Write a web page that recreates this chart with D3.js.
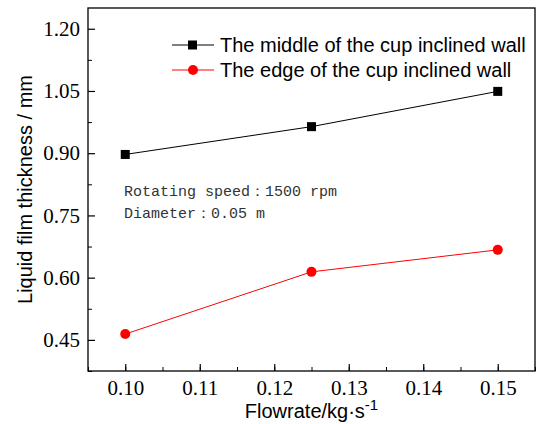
<!DOCTYPE html>
<html>
<head>
<meta charset="utf-8">
<script src="https://cdn.jsdelivr.net/npm/d3@7"></script>
<style>
  body { margin: 0; background: #fff; }
  .tick text { font-family: "Liberation Serif", "Times New Roman", serif; font-size: 21px; fill: #000; }
  .axis path, .axis line { stroke: #000; }
</style>
</head>
<body>
<div id="chart"></div>
<script>
// data
var flowrate = [0.10, 0.125, 0.15];
var middleWall = [0.897, 0.964, 1.049];
var edgeWall = [0.464, 0.614, 0.667];
var xTicks = [0.10, 0.11, 0.12, 0.13, 0.14, 0.15];
var yTicks = [0.45, 0.60, 0.75, 0.90, 1.05, 1.20];
var seriesNames = ["The middle of the cup inclined wall", "The edge of the cup inclined wall"];
var notes = ["Rotating speed：1500 rpm", "Diameter：0.05 m"];

var width = 538, height = 424,
    margin = {top: 8, right: 3, bottom: 53, left: 88};

var svg = d3.select("#chart").append("svg")
    .attr("width", width)
    .attr("height", height);

var xScale = d3.scaleLinear().domain([0.095, 0.155]).range([margin.left, width - margin.right]),
    yScale = d3.scaleLinear().domain([0.375, 1.25]).range([height - margin.bottom, margin.top]);

// minor ticks
var xMinor = d3.range(0, 13).map(function(i) { return 0.095 + i * 0.005; }),
    yMinor = d3.range(0, 7).map(function(i) { return 0.375 + i * 0.15; });

svg.append("g")
    .attr("class", "axis")
    .attr("transform", "translate(0," + (height - margin.bottom) + ")")
    .call(d3.axisBottom(xScale).tickValues(xMinor).tickSize(-4).tickFormat(""))
    .select(".domain").remove();

svg.append("g")
    .attr("class", "axis")
    .attr("transform", "translate(" + margin.left + ",0)")
    .call(d3.axisLeft(yScale).tickValues(yMinor).tickSize(-4).tickFormat(""))
    .select(".domain").remove();

var xAxis = svg.append("g")
    .attr("class", "axis")
    .attr("transform", "translate(0," + (height - margin.bottom) + ")")
    .call(d3.axisBottom(xScale).tickValues(xTicks).tickSize(-7).tickPadding(9).tickFormat(d3.format(".2f")));
xAxis.select(".domain").remove();
xAxis.selectAll(".tick line").attr("stroke-width", 1.2);

var yAxis = svg.append("g")
    .attr("class", "axis")
    .attr("transform", "translate(" + margin.left + ",0)")
    .call(d3.axisLeft(yScale).tickValues(yTicks).tickSize(-7).tickPadding(8).tickFormat(d3.format(".2f")));
yAxis.select(".domain").remove();
yAxis.selectAll(".tick line").attr("stroke-width", 1.2);

// frame
svg.append("rect")
    .attr("x", margin.left)
    .attr("y", margin.top)
    .attr("width", width - margin.left - margin.right)
    .attr("height", height - margin.top - margin.bottom)
    .attr("fill", "none")
    .attr("stroke", "#000")
    .attr("stroke-width", 1.3);

// lines
var line = d3.line()
    .x(function(d, i) { return xScale(flowrate[i]); })
    .y(function(d) { return yScale(d); });

svg.append("path").datum(middleWall)
    .attr("d", line)
    .attr("fill", "none")
    .attr("stroke", "#000")
    .attr("stroke-width", 1);

svg.append("path").datum(edgeWall)
    .attr("d", line)
    .attr("fill", "none")
    .attr("stroke", "#ff0000")
    .attr("stroke-width", 1);

svg.selectAll(".sq")
    .data(middleWall)
    .enter().append("rect")
    .attr("class", "sq")
    .attr("x", function(d, i) { return xScale(flowrate[i]) - 4.5; })
    .attr("y", function(d) { return yScale(d) - 4.5; })
    .attr("width", 9)
    .attr("height", 9)
    .attr("fill", "#000");

svg.selectAll(".dot")
    .data(edgeWall)
    .enter().append("circle")
    .attr("class", "dot")
    .attr("cx", function(d, i) { return xScale(flowrate[i]); })
    .attr("cy", function(d) { return yScale(d); })
    .attr("r", 5)
    .attr("fill", "#ff0000");

// legend
var legend = svg.append("g").attr("transform", "translate(172,45)");

legend.append("line").attr("x1", 0).attr("x2", 42).attr("y1", 0).attr("y2", 0).attr("stroke", "#000");
legend.append("rect").attr("x", 16).attr("y", -4.5).attr("width", 9).attr("height", 9).attr("fill", "#000");
legend.append("line").attr("x1", 0).attr("x2", 42).attr("y1", 25).attr("y2", 25).attr("stroke", "#ff0000");
legend.append("circle").attr("cx", 21).attr("cy", 25).attr("r", 5).attr("fill", "#ff0000");

legend.selectAll(".ltext")
    .data(seriesNames)
    .enter().append("text")
    .attr("x", 48)
    .attr("y", function(d, i) { return i * 25 + 7; })
    .style("font-family", "'Liberation Sans', Arial, sans-serif")
    .style("font-size", "20px")
    .text(function(d) { return d; });

// notes
svg.selectAll(".note")
    .data(notes)
    .enter().append("text")
    .attr("x", 124)
    .attr("y", function(d, i) { return 196 + i * 22; })
    .style("font-family", "'Liberation Mono', 'Courier New', monospace")
    .style("font-size", "15px")
    .style("fill", "#333")
    .text(function(d) { return d; });

// axis titles
svg.append("text")
    .attr("transform", "rotate(-90)")
    .attr("x", -(margin.top + height - margin.bottom) / 2)
    .attr("y", 32)
    .attr("text-anchor", "middle")
    .style("font-family", "'Liberation Sans', Arial, sans-serif")
    .style("font-size", "20px")
    .text("Liquid film thickness / mm");

var xTitle = svg.append("text")
    .attr("x", (margin.left + width - margin.right) / 2)
    .attr("y", 418)
    .attr("text-anchor", "middle")
    .style("font-family", "'Liberation Sans', Arial, sans-serif")
    .style("font-size", "20px")
    .text("Flowrate/kg·s");
xTitle.append("tspan")
    .attr("dy", -8)
    .style("font-size", "15px")
    .text("-1");
</script>
</body>
</html>
